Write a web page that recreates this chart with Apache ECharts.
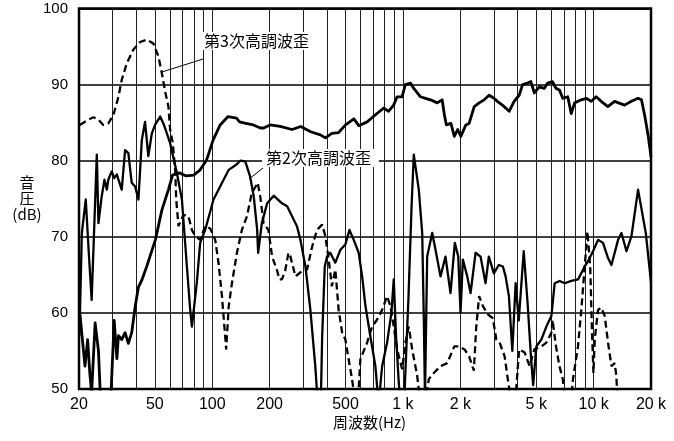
<!DOCTYPE html>
<html><head><meta charset="utf-8">
<script src="https://cdn.jsdelivr.net/npm/echarts@6/dist/echarts.min.js"></script>
<style>html,body{margin:0;padding:0;background:#fff}#c{width:674px;height:441px}</style>
</head><body><div id="c"></div>
<script>
// Frequency grid lines (Hz) and labelled ticks
const xGridValues = [30,40,50,60,70,80,90,100,200,300,400,500,600,700,800,900,1000,2000,3000,4000,5000,6000,7000,8000,9000,10000];
const xLabelValues = [20,50,100,200,500,1000,2000,5000,10000,20000];
const yMin = 50, yMax = 100, yStep = 10;

// Fundamental response [Hz, dB]
const fundamental = [[20.2,60],[21.5,53],[22.2,56.5],[22.8,52],[23.3,49.5],[24.3,58.7],[25.3,55],[26,48],[27,45],[28.5,46],[29.5,50],[30.6,59],[31.6,54],[32.2,57],[33.5,56.5],[34.9,57.4],[36.3,56],[37.8,57.4],[39.4,60.8],[41,63.4],[42.7,64.3],[45.3,66.1],[50.3,69.6],[54.4,73.5],[58.9,76.2],[61.9,78.1],[67.2,78.4],[73,78],[79.9,78.1],[86.4,78.8],[93.4,80.1],[101,82.7],[110,84.7],[121,85.8],[134,85.6],[139,85.1],[150,84.9],[164,84.7],[179,84.3],[186,84.3],[201,84.7],[227,84.5],[262,84.1],[291,84.5],[328,83.8],[369,83.4],[392,83.0],[424,83.6],[460,83.7],[500,84.7],[553,85.5],[587,84.6],[649,85.1],[731,86.2],[793,86.9],[842,86.5],[894,87.3],[932,88.4],[989,88.4],[1030,90.0],[1095,90.2],[1140,89.5],[1236,88.4],[1313,88.2],[1395,88.0],[1513,87.6],[1606,88.0],[1650,86],[1690,84.7],[1785,84.9],[1860,83.2],[1937,84.1],[2013,83.2],[2138,84.7],[2224,84.9],[2365,87.1],[2510,87.6],[2665,88.0],[2830,88.6],[3004,88.2],[3130,87.8],[3325,87.3],[3610,86.5],[3830,87.8],[4070,88.6],[4240,90.0],[4500,90.2],[4690,90.4],[4890,88.9],[5190,89.7],[5510,89.5],[5740,90.2],[6090,90.4],[6350,89.5],[6620,89.3],[6890,88.2],[7320,88.4],[7630,86.2],[7950,87.6],[8620,88.0],[9150,88.2],[9720,87.8],[10320,88.4],[10960,87.8],[11870,87.1],[12880,87.8],[14530,87.3],[15780,87.8],[17110,88.2],[17830,88.0],[18580,85.8],[19350,83.2],[20000,80.5]];

// 2nd harmonic distortion [Hz, dB]
const harmonic2 = [[20.1,57],[20.7,70.5],[21.7,74.9],[22.5,68],[23.3,61.7],[24.8,80.8],[25.3,71.8],[26.3,75.3],[27.2,77.5],[28,76.2],[28.5,77.5],[29.7,78.6],[30.6,77.7],[31.6,78.2],[32.2,77.5],[33.5,76.2],[34.9,81.4],[36.3,81],[37.8,77.1],[39.4,76.6],[41,74.9],[42.7,82.7],[44.4,85.1],[46.2,80.6],[48.2,83.6],[50.1,84.7],[53.3,85.8],[55.4,84.9],[57.8,83.6],[60.1,82.3],[65.2,78.4],[69.3,74.9],[73.6,66.1],[76.6,60.4],[78.2,58.2],[83,64],[86.4,69.2],[91.8,70.9],[101.5,74.9],[110,76.6],[122,78.8],[134,79.5],[140,80],[149,79.9],[158,77.9],[165,75.3],[172,70.9],[174,67.9],[182,71.8],[194,74.4],[210,75.4],[232,74.4],[247,74],[278,71.4],[290,69.6],[308,66.1],[327,60.4],[347,53],[360,47],[370,47],[377,56.9],[389,66.1],[400,67.4],[416,67.9],[442,66.6],[470,68.3],[499,69],[524,70.9],[552,69.6],[586,67.9],[611,64.8],[636,60.9],[675,56.9],[717,53],[745,48],[778,53],[826,56.1],[870,60],[895,64.4],[920,57],[950,51],[975,47],[1010,47],[1069,62],[1110,74],[1140,80.8],[1211,76.2],[1262,70.5],[1286,59.6],[1305,49],[1340,67.4],[1424,70.5],[1482,68.3],[1574,64.8],[1672,67.4],[1776,62.6],[1871,69.2],[1950,67.4],[2005,60],[2062,67],[2174,64.8],[2263,62.6],[2404,67.9],[2553,67.4],[2712,63.9],[2822,67.4],[2998,65.2],[3185,66.3],[3344,66.1],[3455,64.8],[3596,62.2],[3747,55],[3900,63.9],[4050,59],[4300,68.1],[4500,61.5],[4700,54],[4820,50.5],[5010,55.6],[5322,56.5],[5653,58.2],[6005,59.6],[6250,63.9],[6638,64.2],[7052,63.9],[7646,64.2],[8282,64.4],[8982,66.1],[9348,66.8],[9930,68.1],[10550,69.6],[11206,69.2],[11904,67.2],[12404,66.3],[13436,69.6],[14000,70.5],[14872,68.1],[15798,70.1],[17108,76.2],[18780,70.5],[20000,64]];

// 3rd harmonic distortion [Hz, dB]
const harmonic3 = [[20.2,84.7],[22.4,85.4],[23.8,85.7],[25.3,85.4],[26.8,84.7],[28.5,84.9],[30.3,86],[32.2,88.4],[33.5,90.6],[35.6,92.8],[38.6,94.6],[41.8,95.6],[45.4,95.9],[49.1,95.4],[52.2,93.7],[54.4,91.5],[56.6,89.1],[58.9,87.1],[60.1,84.1],[62.1,82.3],[63.9,78.8],[64.7,74.9],[66.5,71.4],[70.6,72.9],[75,72.7],[78.2,70.9],[81.4,70.1],[86.4,69.6],[91.8,71.4],[97.5,71.1],[103.6,69.6],[107.8,66.6],[112.4,62.2],[116.9,56.9],[118.3,55.2],[122,60.9],[126.8,63.9],[134.7,67.9],[143,70.9],[152,72.7],[161,75.7],[173,77.1],[178.5,75.3],[185.8,71.8],[197,70.9],[206,67.4],[218,65.7],[225,64.4],[232,64.4],[241,65.5],[251,67.9],[257,67.4],[273,64.8],[296,65.5],[314,65.7],[334,68.7],[354,70.9],[377,71.6],[392,70.1],[408,67],[424,63.5],[442,65.7],[460,60.4],[480,57.4],[499,56.5],[519,53.9],[541,51.3],[563,48],[580,48],[598,53.9],[649,56.1],[689,58.2],[731,59.1],[778,60.4],[826,62.2],[860,60.9],[895,58.2],[932,55.2],[991,52.6],[1030,56.1],[1073,58.2],[1118,55.2],[1187,51.8],[1236,48],[1300,48],[1367,51.3],[1452,52.1],[1574,53],[1707,53.4],[1860,55.6],[1964,55.6],[2104,55.2],[2224,54.3],[2354,52.4],[2424,58.2],[2510,62.2],[2626,60.9],[2789,59.8],[2963,59.3],[3088,56.5],[3214,56.1],[3414,54.3],[3548,51.3],[3670,49],[3900,49],[4070,55.2],[4348,54.8],[4618,53],[4890,55.2],[5322,55.6],[5653,56.1],[6005,57.4],[6090,59.1],[6350,55.6],[6620,53],[6890,51.3],[7150,48],[7600,48],[7794,51.3],[8282,55.6],[8620,60.4],[8982,66.1],[9278,70.7],[9600,66.1],[9810,57.4],[9980,52.1],[10140,56.5],[10550,60.4],[10960,60.7],[11440,59.6],[11904,56.1],[12404,53],[12900,53.4],[13150,51.8],[13400,48]];

const label3 = '第3次高調波歪';
const label2 = '第2次高調波歪';
const yName = '音\n圧\n(dB)';
const xName = '周波数(Hz)';

const chart = echarts.init(document.getElementById('c'), null, {renderer: 'canvas'});
const font = "'Liberation Sans', Arial, sans-serif";
const cjk = "'Noto Sans CJK JP', 'Noto Sans', sans-serif";

chart.setOption({
  backgroundColor: '#fff',
  animation: false,
  grid: {left: 79, right: 23, top: 8.5, bottom: 52, show: true, borderColor: '#000', borderWidth: 2.5, backgroundColor: 'transparent'},
  xAxis: {
    type: 'log', logBase: 10, min: 20, max: 20000,
    axisLine: {show: false},
    axisTick: {show: false, customValues: xGridValues},
    axisLabel: {
      customValues: xLabelValues, margin: 8, color: '#000', fontSize: 16, fontFamily: font,
      formatter: v => v >= 1000 ? (v / 1000) + ' k' : String(v)
    },
    splitLine: {show: true, lineStyle: {color: '#222', width: 1}},
    minorSplitLine: {show: false}
  },
  yAxis: {
    type: 'value', min: yMin, max: yMax, interval: yStep,
    axisLine: {show: false}, axisTick: {show: false},
    axisLabel: {margin: 11, color: '#000', fontSize: 15, fontFamily: font},
    splitLine: {show: true, lineStyle: {color: '#000', width: 1.6}}
  },
  series: [
    {type: 'line', data: fundamental, showSymbol: false, clip: true, z: 5,
     lineStyle: {color: '#000', width: 2.8, join: 'round'}},
    {type: 'line', data: harmonic2, showSymbol: false, clip: true, z: 4,
     lineStyle: {color: '#000', width: 2.3, join: 'round'}},
    {type: 'line', data: harmonic3, showSymbol: false, clip: true, z: 3,
     lineStyle: {color: '#000', width: 2.3, type: [7, 4]}}
  ],
  graphic: [
    {type: 'line', z: 10, shape: {x1: 203, y1: 59, x2: 162, y2: 72}, style: {stroke: '#000', lineWidth: 1}},
    {type: 'text', z: 10, left: 202, top: 32, style: {text: label3, font: '16px ' + cjk, fill: '#000', backgroundColor: '#fff', padding: [1, 3, 1, 2]}},
    {type: 'line', z: 10, shape: {x1: 263, y1: 168, x2: 249, y2: 179}, style: {stroke: '#000', lineWidth: 1}},
    {type: 'text', z: 10, left: 262, top: 149, style: {text: label2, font: '16px ' + cjk, fill: '#000', backgroundColor: '#fff', padding: [1, 8, 1, 4]}},
    {type: 'text', z: 10, x: 27, y: 174, style: {text: yName, font: '15px ' + cjk, fill: '#000', align: 'center', verticalAlign: 'top', lineHeight: 16}},
    {type: 'text', z: 10, left: 333, top: 415, style: {text: xName, font: '15px ' + cjk, fill: '#000'}}
  ]
});
</script></body></html>
